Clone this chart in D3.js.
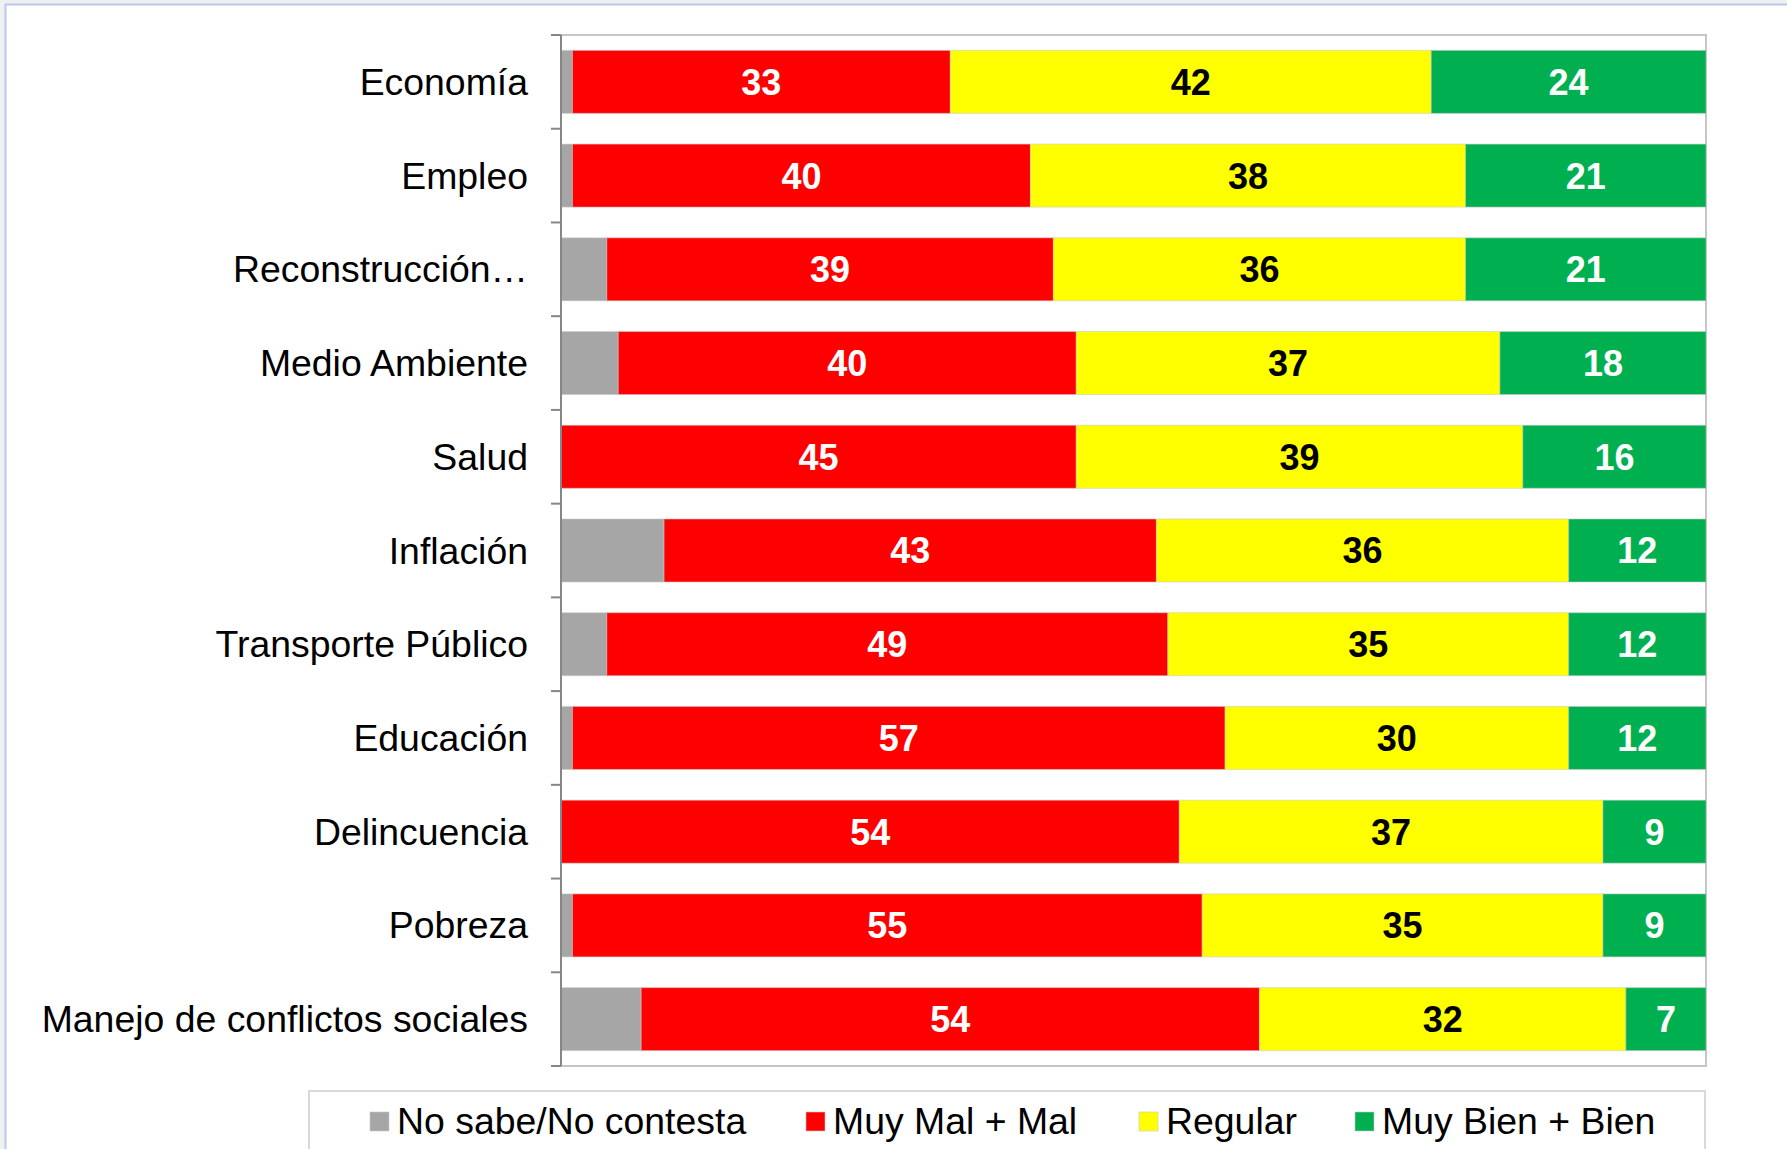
<!DOCTYPE html>
<html>
<head>
<meta charset="utf-8">
<script src="https://cdn.jsdelivr.net/npm/d3@7"></script>
<style>
  html, body { margin: 0; padding: 0; background: #ffffff; }
  svg { display: block; }
  text { font-family: "Liberation Sans", Arial, sans-serif; }
</style>
</head>
<body>
<svg id="chart" width="1787" height="1149"></svg>
<script>
// Survey results: evaluation by policy area (percent)
const categories = [
  "Economía", "Empleo", "Reconstrucción…", "Medio Ambiente", "Salud",
  "Inflación", "Transporte Público", "Educación", "Delincuencia",
  "Pobreza", "Manejo de conflictos sociales"
];
const seriesNames = ["No sabe/No contesta", "Muy Mal + Mal", "Regular", "Muy Bien + Bien"];
const noSabe   = [1, 1, 4, 5, 0, 9, 4, 1, 0, 1, 7];
const muyMal   = [33, 40, 39, 40, 45, 43, 49, 57, 54, 55, 54];
const regular  = [42, 38, 36, 37, 39, 36, 35, 30, 37, 35, 32];
const muyBien  = [24, 21, 21, 18, 16, 12, 12, 12, 9, 9, 7];

const seriesColors = ["#a6a6a6", "#ff0000", "#ffff00", "#00b050"];
const labelColors  = [null, "#ffffff", "#000000", "#ffffff"];

const svg = d3.select("#chart");
const W = 1787, H = 1149;

// outer frame
svg.append("rect").attr("x", 0).attr("y", 0).attr("width", W).attr("height", H).attr("fill", "#f0f0f0");
svg.append("rect").attr("x", 5.5).attr("y", 4.5).attr("width", W).attr("height", H)
  .attr("fill", "#ffffff").attr("stroke", "#b7c9ee").attr("stroke-width", 2);

const plot = { left: 561, right: 1706, top: 35, bottom: 1066 };

const x = d3.scaleLinear().domain([0, 100]).range([plot.left, plot.right]);
const y = d3.scaleBand().domain(categories).range([plot.top, plot.bottom]).padding(0);
const barFrac = 0.672;

// build stacked data
const table = categories.map((c, i) => ({
  cat: c,
  s0: noSabe[i], s1: muyMal[i], s2: regular[i], s3: muyBien[i]
}));
const stack = d3.stack().keys(["s0", "s1", "s2", "s3"]);
const layers = stack(table);

// plot area border (top, right, bottom)
svg.append("path")
  .attr("d", `M${plot.left},${plot.top}H${plot.right}V${plot.bottom}H${plot.left}`)
  .attr("fill", "none").attr("stroke", "#c6c6c6").attr("stroke-width", 2);

// bars
const barH = y.bandwidth() * barFrac;
const barOff = (y.bandwidth() - barH) / 2;
layers.forEach((layer, k) => {
  svg.append("g").selectAll("rect").data(layer).join("rect")
    .attr("x", d => x(d[0]))
    .attr("y", d => y(d.data.cat) + barOff)
    .attr("width", d => Math.max(0, x(d[1]) - x(d[0])))
    .attr("height", barH)
    .attr("fill", seriesColors[k])
    .attr("stroke", d => (d[1] - d[0]) > 0 ? "rgba(200,200,200,0.55)" : "none")
    .attr("stroke-width", 1);
});

// value labels
layers.forEach((layer, k) => {
  if (!labelColors[k]) return;
  svg.append("g").selectAll("text").data(layer).join("text")
    .attr("x", d => (x(d[0]) + x(d[1])) / 2)
    .attr("y", d => y(d.data.cat) + y.bandwidth() / 2)
    .attr("dy", "0.36em")
    .attr("text-anchor", "middle")
    .attr("font-size", 36)
    .attr("font-weight", "bold")
    .attr("fill", labelColors[k])
    .text(d => d[1] - d[0]);
});

// category axis with ticks at band edges
const axisG = svg.append("g");
axisG.append("line")
  .attr("x1", plot.left).attr("x2", plot.left)
  .attr("y1", plot.top).attr("y2", plot.bottom)
  .attr("stroke", "#868686").attr("stroke-width", 2);
const edges = categories.map(c => y(c)).concat([plot.bottom]);
axisG.selectAll("line.tick").data(edges).join("line")
  .attr("class", "tick")
  .attr("x1", plot.left - 10).attr("x2", plot.left)
  .attr("y1", d => d).attr("y2", d => d)
  .attr("stroke", "#868686").attr("stroke-width", 2);
axisG.selectAll("text").data(categories).join("text")
  .attr("x", 528)
  .attr("y", d => y(d) + y.bandwidth() / 2)
  .attr("dy", "0.35em")
  .attr("text-anchor", "end")
  .attr("font-size", 37.4)
  .attr("fill", "#000000")
  .text(d => d);

// legend
const legend = svg.append("g");
legend.append("rect").attr("x", 309).attr("y", 1091).attr("width", 1396).attr("height", 80)
  .attr("fill", "#ffffff").attr("stroke", "#d9d9d9").attr("stroke-width", 2);
const legendX = [370, 806, 1139, 1355];
seriesNames.forEach((name, k) => {
  legend.append("rect")
    .attr("x", legendX[k]).attr("y", 1112).attr("width", 19).attr("height", 19)
    .attr("fill", seriesColors[k]).attr("stroke", "rgba(200,200,200,0.6)").attr("stroke-width", 1);
  legend.append("text")
    .attr("x", legendX[k] + 27).attr("y", 1121)
    .attr("dy", "0.36em")
    .attr("font-size", 37.4)
    .attr("fill", "#000000")
    .text(name);
});
</script>
</body>
</html>
